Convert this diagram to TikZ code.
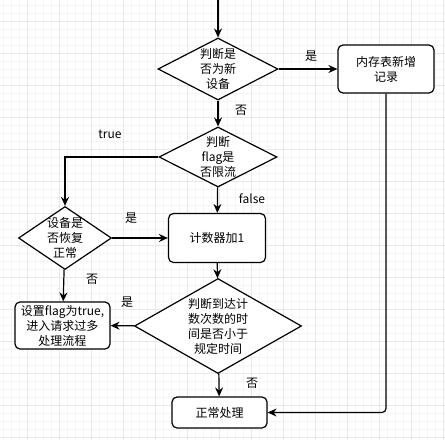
\documentclass[tikz,border=0pt]{standalone}
\usepackage{fontspec}
\setmainfont{Noto Sans CJK SC}
\usetikzlibrary{shapes.geometric,arrows.meta}

\tikzset{
  gridminor/.style={draw=black!4,line width=0.8pt},
  gridmajor/.style={draw=black!9,line width=0.8pt},
  decide/.style={diamond,draw,fill=white,inner sep=-14pt,align=center},
  stepbox/.style={draw,fill=white,rounded corners=5pt,inner sep=0pt,align=center},
}

\begin{document}
\begin{tikzpicture}[x=1pt,y=-1pt,>={Stealth[length=9pt,width=8pt,inset=3pt]},line width=1.2pt,font=\fontsize{12}{15}\selectfont]
  \useasboundingbox (0,0) rectangle (445,440);
  % grid
  \foreach \gx in {3,11,...,443} \draw[gridminor] (\gx,0) -- (\gx,440);
  \foreach \gy in {5,13,...,437} \draw[gridminor] (0,\gy) -- (445,\gy);
  \foreach \gx in {27,59,...,443} \draw[gridmajor] (\gx,0) -- (\gx,440);
  \foreach \gy in {21,53,...,437} \draw[gridmajor] (0,\gy) -- (445,\gy);

  % nodes
  \coordinate (start) at (218,0);
  \node[decide,minimum width=120pt,minimum height=62pt] (isnew) at (218,69) {判断是\\否为新\\设备};
  \node[stepbox,minimum width=96pt,minimum height=48pt] (record) at (386,69) {内存表新增\\记录};
  \node[decide,minimum width=118pt,minimum height=60pt] (islimit) at (218,157) {判断\\flag是\\否限流};
  \node[decide,minimum width=93pt,minimum height=63pt] (isback) at (65,238) {设备是\\否恢复\\正常};
  \node[stepbox,minimum width=97pt,minimum height=49pt] (count) at (217,238) {计数器加1};
  \node[decide,minimum width=167pt,minimum height=95pt] (intime) at (218,326) {判断到达计\\数次数的时\\间是否小于\\规定时间};
  \node[stepbox,minimum width=95pt,minimum height=47pt] (setflag) at (62.5,325.5) {设置flag为true,\\进入请求过多\\处理流程};
  \node[stepbox,minimum width=95pt,minimum height=31pt] (normal) at (219.5,412.5) {正常处理};

  % connectors
  \draw[->] (start) -- (isnew);
  \draw[->] (isnew) -- (record);
  \draw[->] (isnew) -- (islimit);
  \draw[->] (islimit.west) -| (isback.north);
  \draw[->] (islimit) -- (count);
  \draw[->] (isback) -- (count);
  \draw[->] (isback) -- (setflag);
  \draw[->] (count) -- (intime);
  \draw[->] (intime) -- (setflag);
  \draw[->] (intime) -- (normal);
  \draw[->,rounded corners=4pt] (record.south) |- (normal.east);

  % labels
  \node at (311,56) {是};
  \node at (241,110) {否};
  \node at (110,134) {true};
  \node at (252,199) {false};
  \node at (131,218) {是};
  \node at (92,279) {否};
  \node at (127,302) {是};
  \node at (252,383) {否};
\end{tikzpicture}
\end{document}
